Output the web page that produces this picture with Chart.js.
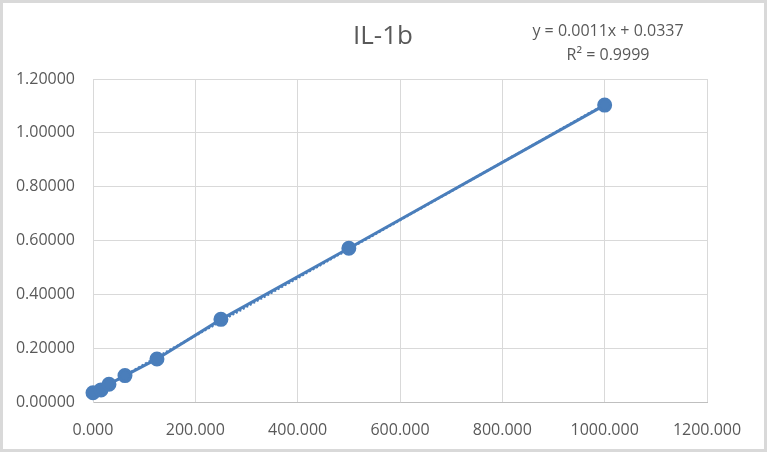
<!DOCTYPE html>
<html>
<head>
<meta charset="utf-8">
<script src="https://cdn.jsdelivr.net/npm/chart.js@4"></script>
<style>
    html, body { margin: 0; padding: 0; background: #fff; }
    #wrap { width: 767px; height: 452px; position: relative; }
</style>
</head>
<body>
<div id="wrap"><canvas id="ilChart" width="767" height="452"></canvas></div>
<script>
// standard curve concentrations and measured OD
const concentrations = [0, 15.625, 31.25, 62.5, 125, 250, 500, 1000];
const odValues = [0.0346, 0.045, 0.066, 0.098, 0.160, 0.307, 0.571, 1.103];
const xTicks = [0, 200, 400, 600, 800, 1000, 1200];
const yTicks = [0, 0.2, 0.4, 0.6, 0.8, 1.0, 1.2];
const chartTitle = 'IL-1b';
const equationLines = ['y = 0.0011x + 0.0337', 'R\u00B2 = 0.9999'];

const lineColor = '#4a7ebb';
const fontFamily = '"Open Sans", Lato, sans-serif';

document.addEventListener('DOMContentLoaded', () => {
    initChart();
});

// least squares fit for the linear trendline
function linearFit(xs, ys) {
    const n = xs.length;
    const mx = xs.reduce((a, b) => a + b, 0) / n;
    const my = ys.reduce((a, b) => a + b, 0) / n;
    let sxy = 0, sxx = 0;
    for (let i = 0; i < n; i++) {
        sxy += (xs[i] - mx) * (ys[i] - my);
        sxx += (xs[i] - mx) * (xs[i] - mx);
    }
    const slope = sxy / sxx;
    return { slope: slope, intercept: my - slope * mx };
}

const decorPlugin = {
    id: 'decor',
    beforeDraw(chart) {
        const ctx = chart.ctx;
        ctx.save();
        ctx.fillStyle = '#ffffff';
        ctx.fillRect(0, 0, chart.width, chart.height);
        ctx.restore();
    },
    afterDraw(chart) {
        const ctx = chart.ctx;
        ctx.save();
        ctx.strokeStyle = '#d9d9d9';
        ctx.lineWidth = 3;
        ctx.strokeRect(1.5, 1.5, chart.width - 3, chart.height - 3);

        ctx.fillStyle = '#595959';
        ctx.textAlign = 'center';
        ctx.textBaseline = 'middle';
        ctx.font = '26px ' + fontFamily;
        ctx.fillText(chartTitle, 383, 37);

        ctx.font = '16px ' + fontFamily;
        ctx.fillText(equationLines[0], 608, 31);
        ctx.fillText(equationLines[1], 608, 55);
        ctx.restore();
    }
};

function initChart() {
    const fit = linearFit(concentrations, odValues);
    const xMin = concentrations[0];
    const xMax = concentrations[concentrations.length - 1];

    new Chart(document.getElementById('ilChart').getContext('2d'), {
        type: 'scatter',
        data: {
            datasets: [
                {
                    label: 'IL-1b',
                    data: concentrations.map((x, i) => ({ x: x, y: odValues[i] })),
                    showLine: true,
                    borderColor: lineColor,
                    backgroundColor: lineColor,
                    borderWidth: 3,
                    pointRadius: 6,
                    pointHoverRadius: 6,
                    clip: false,
                    order: 1
                },
                {
                    label: 'Linear',
                    data: [
                        { x: xMin, y: fit.slope * xMin + fit.intercept },
                        { x: xMax, y: fit.slope * xMax + fit.intercept }
                    ],
                    showLine: true,
                    borderColor: lineColor,
                    borderWidth: 2.5,
                    borderDash: [2, 2],
                    pointRadius: 0,
                    clip: false,
                    order: 2
                }
            ]
        },
        options: {
            responsive: false,
            animation: false,
            layout: { padding: { left: 0, top: 79, right: 60, bottom: 0 } },
            plugins: {
                legend: { display: false },
                tooltip: { enabled: false }
            },
            scales: {
                x: {
                    type: 'linear',
                    min: 0,
                    max: 1200,
                    afterFit: (scale) => { scale.height = 50; },
                    afterBuildTicks: (scale) => { scale.ticks = xTicks.map(v => ({ value: v })); },
                    grid: { color: '#d9d9d9', drawTicks: false, lineWidth: 1 },
                    border: { color: '#bfbfbf' },
                    ticks: {
                        padding: 19,
                        color: '#595959',
                        font: { family: fontFamily, size: 16 },
                        callback: (v) => v.toFixed(3)
                    }
                },
                y: {
                    type: 'linear',
                    min: 0,
                    max: 1.2,
                    afterFit: (scale) => { scale.width = 93; },
                    afterBuildTicks: (scale) => { scale.ticks = yTicks.map(v => ({ value: v })); },
                    grid: { color: '#d9d9d9', drawTicks: false, lineWidth: 1 },
                    border: { color: '#d9d9d9' },
                    ticks: {
                        padding: 18,
                        color: '#595959',
                        font: { family: fontFamily, size: 16 },
                        callback: (v) => v.toFixed(5)
                    }
                }
            }
        },
        plugins: [decorPlugin]
    });
}
</script>
</body>
</html>
